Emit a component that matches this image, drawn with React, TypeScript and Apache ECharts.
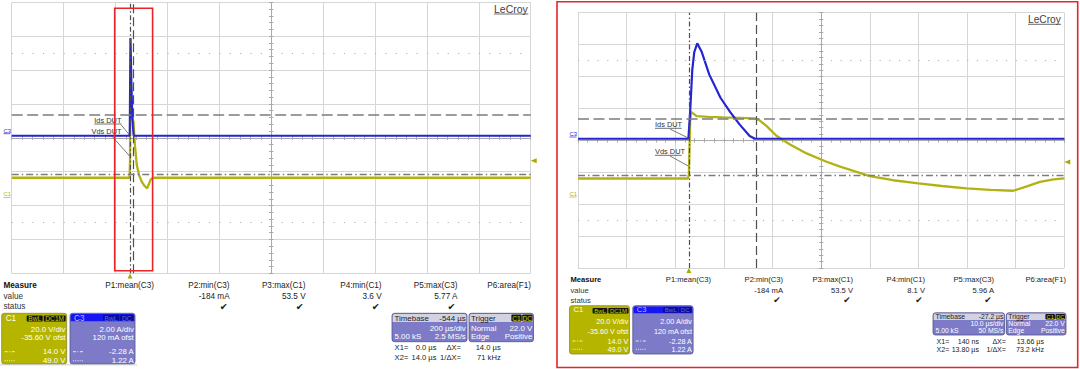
import React, { useEffect, useRef } from "react";
import * as echarts from "echarts";

// ---------------- data ----------------
const measureNames = ["P1:mean(C3)", "P2:min(C3)", "P3:max(C1)", "P4:min(C1)", "P5:max(C3)", "P6:area(F1)"];
const leftMeasureValues = ["", "-184 mA", "53.5 V", "3.6 V", "5.77 A", ""];
const rightMeasureValues = ["", "-184 mA", "53.5 V", "8.1 V", "5.96 A", ""];
const measureStatus = [false, true, true, true, true, false];

const c1Settings = ["20.0 V/div", "-35.60 V ofst", "14.0 V", "49.0 V"];
const c3Settings = ["2.00 A/div", "120 mA ofst", "-2.28 A", "1.22 A"];
const c1Badges = ["BwL", "DC1M"];
const c3Badges = ["BwL", "DC"];
const triggerBadges = ["C1", "DC"];

const leftTimebase = ["-544 µs", "200 µs/div", "5.00 kS", "2.5 MS/s"];
const rightTimebase = ["-27.2 µs", "10.0 µs/div", "5.00 kS", "50 MS/s"];
const triggerInfo = ["Normal", "22.0 V", "Edge", "Positive"];
// X1, X2, ΔX, 1/ΔX
const leftCursorTexts = ["0.0 µs", "14.0 µs", "14.0 µs", "71 kHz"];
const rightCursorTexts = ["140 ns", "13.80 µs", "13.66 µs", "73.2 kHz"];

// scope settings
const C1_VDIV = 20;
const C1_OFFSET = -35.6;
const C3_ADIV = 2;
const C3_OFFSET = 0.12;
const LEFT_US_DIV = 200;
const LEFT_DELAY = -544;
const RIGHT_US_DIV = 10;
const RIGHT_DELAY = -27.2;
const LEFT_X1 = 0;
const LEFT_X2 = 14;
const RIGHT_X1 = 0.14;
const RIGHT_X2 = 13.8;
const CURSOR_V1 = 14.0;
const CURSOR_V2 = 49.0;
const TRIGGER_LEVEL = 22.0;

// traces (time in µs, C1 in V, C3 in A)
const leftC1Time = [-456, -2, 0, 0.5, 6, 13, 19, 26, 35, 45, 55, 66, 72, 79, 87, 1544];
const leftC1Volts = [12.0, 12.0, 22.0, 50.5, 50.0, 45.0, 31.0, 19.5, 13.5, 9.7, 7.3, 5.8, 8.0, 10.8, 12.0, 12.0];
const leftC3Time = [-456, -1, 0.3, 1.7, 5, 9, 14, 1544];
const leftC3Amps = [0, 0, 3.0, 5.77, 3.2, 1.0, 0, 0];

const rightC1Time = [-22.8, -0.2, 0.0, 0.05, 0.25, 0.45, 1.6, 4.0, 7.1, 10.5, 13.6, 14.6, 16.0, 18.0, 20.8, 24.2, 28.3, 31.1, 37.2, 42.0, 47.2, 52.0, 57.1, 62.0, 66.7, 69.5, 72.2, 75.0, 77.2];
const rightC1Volts = [11.7, 11.7, 14.0, 20.5, 47.0, 53.5, 50.8, 50.3, 50.0, 49.7, 49.4, 48.0, 44.5, 38.5, 33.0, 27.4, 22.2, 19.1, 13.2, 10.6, 8.6, 7.0, 5.5, 4.6, 4.0, 6.8, 9.6, 11.2, 11.8];
const rightC3Time = [-22.8, -0.1, 0.25, 0.7, 1.1, 1.72, 2.6, 4.2, 6.5, 8.5, 10.5, 12.5, 13.6, 77.2];
const rightC3Amps = [-0.02, -0.02, 1.6, 4.3, 5.4, 5.96, 5.45, 4.0, 2.55, 1.65, 0.85, 0.15, -0.02, -0.02];

// ---------------- styling ----------------
const FONT = '"Liberation Sans", Arial, Helvetica, sans-serif';
const YEL = "#b2b214";
const BLUE = "#2424d4";
const GRIDC = "#d6d6d6";
const CROSS = "#a9a9a9";
const BOXP = "#7d7bc8";
const BOXY = "#b5b500";

const zip = (t: number[], v: number[]) => t.map((x, i) => [x, v[i]]);

const c1Min = -C1_OFFSET - 4 * C1_VDIV;
const c1Max = -C1_OFFSET + 4 * C1_VDIV;
const c3Min = -C3_OFFSET - 4 * C3_ADIV;
const c3Max = -C3_OFFSET + 4 * C3_ADIV;

const PANELS = [
  {
    grid: { left: 11.7, top: 2.3, width: 519, height: 271 },
    usPerDiv: LEFT_US_DIV, delay: LEFT_DELAY, x1: LEFT_X1, x2: LEFT_X2,
    c1: zip(leftC1Time, leftC1Volts), c3: zip(leftC3Time, leftC3Amps),
  },
  {
    grid: { left: 578, top: 12.7, width: 486.3, height: 255.3 },
    usPerDiv: RIGHT_US_DIV, delay: RIGHT_DELAY, x1: RIGHT_X1, x2: RIGHT_X2,
    c1: zip(rightC1Time, rightC1Volts), c3: zip(rightC3Time, rightC3Amps),
  },
];

// ---------------- graphic helpers ----------------
function txt(x: number, y: number, s: string, size: number, fill: string, align = "left", weight = "normal", family = FONT): any {
  return {
    type: "text", x, y, z: 100, silent: true,
    style: { text: s, fill, font: `${weight} ${size}px ${family}`, textAlign: align, textVerticalAlign: "middle" },
  };
}
function rect(x: number, y: number, w: number, h: number, fill: string, stroke?: string, r: any = 0, lw = 1): any {
  return {
    type: "rect", z: 99, silent: true,
    shape: { x, y, width: w, height: h, r },
    style: { fill, stroke: stroke || null, lineWidth: lw },
  };
}
function ln(x1: number, y1: number, x2: number, y2: number, stroke: string, lw = 1, dash?: number[]): any {
  return {
    type: "line", z: 100, silent: true,
    shape: { x1, y1, x2, y2 },
    style: { stroke, lineWidth: lw, lineDash: dash || null },
  };
}
function badge(x: number, y: number, w: number, h: number, s: string, fill: string, color: string, fs: number): any[] {
  return [rect(x, y, w, h, fill, undefined, 1), { ...txt(x + w / 2, y + h / 2 + 0.3, s, fs, color, "center"), z: 101 }];
}

function infoPanel(L: any, values: string[], tb: string[], cur: string[]): any[] {
  const els: any[] = [];
  const fs = L.fs;
  els.push(txt(L.mx, L.my, "Measure", fs, "#111", "left", "bold"));
  els.push(txt(L.mx, L.vy, "value", fs, "#333"));
  els.push(txt(L.mx, L.sy, "status", fs, "#333"));
  measureNames.forEach((n, i) => {
    els.push(txt(L.cols[i], L.my, n, fs, "#222", "right"));
    if (values[i]) els.push(txt(L.cols[i], L.vy, values[i], fs, "#222", "right"));
    if (measureStatus[i]) els.push(txt(L.cols[i] - 6, L.sy, "✔", fs + 1.2, "#1a1a1a", "center", "normal", '"DejaVu Sans", sans-serif'));
  });

  // C1 channel box
  const b1 = L.c1, k = b1.w / 65, bf = L.bfs, r = L.rows;
  els.push(rect(b1.x, b1.y, b1.w, b1.h, BOXY, "#8a8a30", 2.5, 0.8));
  els.push(txt(b1.x + 4, b1.y + r[0], "C1", bf + 0.4, "#ffffe8"));
  els.push(...badge(b1.x + 25 * k, b1.y + 2.2, 16 * k, L.bh, c1Badges[0], "#151515", "#c9c900", bf - 1.2));
  els.push(...badge(b1.x + 42 * k, b1.y + 2.2, 22 * k, L.bh, c1Badges[1], "#151515", "#c9c900", bf - 1.2));
  c1Settings.forEach((s, i) => els.push(txt(b1.x + b1.w - 1.2, b1.y + r[i + 1], s, bf, "#ffffff", "right")));
  els.push(ln(b1.x + 3, b1.y + r[3], b1.x + 14, b1.y + r[3], "#ffffff", 0.8, [3, 1.5, 1, 1.5]));
  els.push(ln(b1.x + 3, b1.y + r[4], b1.x + 14, b1.y + r[4], "#ffffff", 0.8, [1, 1.2]));

  // C3 channel box
  const b3 = L.c3;
  els.push(rect(b3.x, b3.y, b3.w, b3.h, BOXP, "#50508a", 2.5, 0.8));
  els.push(rect(b3.x + 0.7, b3.y + 0.7, b3.w - 1.4, L.bh + 1.2, "#1616f5", undefined, [2, 2, 0, 0]));
  els.push(txt(b3.x + 4, b3.y + r[0], "C3", bf + 0.4, "#b8b8ff"));
  els.push(...badge(b3.x + 33 * k, b3.y + 1.4, 16 * k, L.bh, c3Badges[0], "#0c0c90", "#5a66ff", bf - 1.2));
  els.push(...badge(b3.x + 50 * k, b3.y + 1.4, 13.5 * k, L.bh, c3Badges[1], "#0c0c90", "#5a66ff", bf - 1.2));
  c3Settings.forEach((s, i) => els.push(txt(b3.x + b3.w - 1.2, b3.y + r[i + 1], s, bf, "#ffffff", "right")));
  els.push(ln(b3.x + 3, b3.y + r[3], b3.x + 14, b3.y + r[3], "#ffffff", 0.8, [3, 1.5, 1, 1.5]));
  els.push(ln(b3.x + 3, b3.y + r[4], b3.x + 14, b3.y + r[4], "#ffffff", 0.8, [1, 1.2]));

  // Timebase box
  const t = L.tb, tr = L.tbRows, tf = L.tfs;
  els.push(rect(t.x, t.y, t.w, t.h, BOXP, "#50508a", 2.5, 0.8));
  els.push(rect(t.x + 0.7, t.y + 0.7, t.w - 1.4, L.th, "#d2d2e2", undefined, [2, 2, 0, 0]));
  els.push(txt(t.x + 2.5, t.y + tr[0], "Timebase", tf, "#222"));
  els.push(txt(t.x + t.w - 1.2, t.y + tr[0], tb[0], tf, "#222", "right"));
  els.push(txt(t.x + t.w - 1.2, t.y + tr[1], tb[1], tf, "#ffffff", "right"));
  els.push(txt(t.x + 2.5, t.y + tr[2], tb[2], tf, "#ffffff"));
  els.push(txt(t.x + t.w - 1.2, t.y + tr[2], tb[3], tf, "#ffffff", "right"));

  // Trigger box
  const g = L.tr;
  els.push(rect(g.x, g.y, g.w, g.h, BOXP, "#50508a", 2.5, 0.8));
  els.push(rect(g.x + 0.7, g.y + 0.7, g.w - 1.4, L.th, "#d2d2e2", undefined, [2, 2, 0, 0]));
  els.push(txt(g.x + 2, g.y + tr[0], "Trigger", tf, "#222"));
  const bw = g.w * 0.16;
  els.push(...badge(g.x + g.w - 2 * bw - 1.5, g.y + 1.2, bw, L.th - 1, triggerBadges[0], "#151515", "#d8d800", tf - 1.2));
  els.push(...badge(g.x + g.w - bw - 1, g.y + 1.2, bw, L.th - 1, triggerBadges[1], "#151515", "#d8d800", tf - 1.2));
  els.push(txt(g.x + 2, g.y + tr[1], triggerInfo[0], tf, "#ffffff"));
  els.push(txt(g.x + g.w - 1.2, g.y + tr[1], triggerInfo[1], tf, "#ffffff", "right"));
  els.push(txt(g.x + 2, g.y + tr[2], triggerInfo[2], tf, "#ffffff"));
  els.push(txt(g.x + g.w - 1.2, g.y + tr[2], triggerInfo[3], tf, "#ffffff", "right"));

  // cursor readouts
  const c = L.cur, cf = L.cfs;
  els.push(txt(c.x, c.y1, "X1=", cf, "#222"));
  els.push(txt(c.v1, c.y1, cur[0], cf, "#222", "right"));
  els.push(txt(c.l2, c.y1, "ΔX=", cf, "#222", "right"));
  els.push(txt(c.v2, c.y1, cur[2], cf, "#222", "right"));
  els.push(txt(c.x, c.y2, "X2=", cf, "#222"));
  els.push(txt(c.v1, c.y2, cur[1], cf, "#222", "right"));
  els.push(txt(c.l2, c.y2, "1/ΔX=", cf, "#222", "right"));
  els.push(txt(c.v2, c.y2, cur[3], cf, "#222", "right"));
  return els;
}

const LEFT_INFO = {
  fs: 8.2, mx: 3.5, my: 285.5, vy: 296, sy: 306.3,
  cols: [154, 229.6, 305.6, 381.6, 457.5, 531],
  c1: { x: 1.7, y: 313.3, w: 65, h: 50.7 },
  c3: { x: 70, y: 313.3, w: 65, h: 50.7 },
  rows: [5, 15.7, 24.4, 38.4, 47.4], bfs: 7.8, bh: 6,
  tb: { x: 392, y: 313.3, w: 75, h: 28.4 },
  tr: { x: 469, y: 313.3, w: 64.5, h: 28.4 },
  tbRows: [5, 14.8, 23.6], tfs: 7.9, th: 8,
  cur: { x: 394.6, y1: 347.7, y2: 357.3, v1: 436.5, l2: 461, v2: 500.7 }, cfs: 7.6,
};
const RIGHT_INFO = {
  fs: 7.6, mx: 570.5, my: 279.3, vy: 290.5, sy: 300,
  cols: [711, 783, 853, 925, 994, 1066],
  c1: { x: 569.5, y: 305.7, w: 60, h: 48.3 },
  c3: { x: 632.8, y: 305.7, w: 60.3, h: 48.3 },
  rows: [4.2, 16, 26, 35.3, 43.6], bfs: 7.2, bh: 5.6,
  tb: { x: 933, y: 312.8, w: 71.6, h: 22.2 },
  tr: { x: 1006.3, y: 312.8, w: 59.7, h: 22.2 },
  tbRows: [4, 10.8, 17.8], tfs: 6.8, th: 6.6,
  cur: { x: 936.6, y1: 341.7, y2: 350.2, v1: 979, l2: 1006, v2: 1044 }, cfs: 7.1,
};

function decorations(): any[] {
  const els: any[] = [];
  // LeCroy logos
  els.push(txt(494, 8.7, "LeCroy", 10.5, "#444"));
  els.push(ln(494, 14, 528.3, 14, "#444", 0.8));
  els.push(txt(1028, 19.3, "LeCroy", 10.2, "#444"));
  els.push(ln(1028, 24.3, 1061, 24.3, "#444", 0.8));
  // channel ground labels
  els.push(txt(3.5, 130.5, "C3", 6, BLUE));
  els.push(ln(3.5, 133.7, 10.5, 133.7, BLUE, 0.7));
  els.push(txt(3.5, 194.3, "C1", 6, YEL));
  els.push(ln(3.5, 197.5, 10.5, 197.5, YEL, 0.7));
  els.push(txt(569.5, 133.8, "C3", 6, BLUE));
  els.push(ln(569.5, 137, 576.5, 137, BLUE, 0.7));
  els.push(txt(569.5, 193.8, "C1", 6, YEL));
  els.push(ln(569.5, 197, 576.5, 197, YEL, 0.7));
  // trace annotations (left)
  els.push(txt(94.3, 120, "Ids DUT", 7.4, "#333"));
  els.push(ln(94.3, 124, 121.5, 124, "#333", 0.7));
  els.push(ln(120.9, 124.5, 130.3, 136, "#444", 0.7));
  els.push(txt(91.5, 131.5, "Vds DUT", 7.4, "#333"));
  els.push(ln(91.5, 135.6, 121.5, 135.6, "#333", 0.7));
  els.push(ln(112.2, 136.5, 129.6, 156, "#444", 0.7));
  // trace annotations (right)
  els.push(txt(655, 124.3, "Ids DUT", 7.4, "#333"));
  els.push(ln(655, 128.3, 681.7, 128.3, "#333", 0.7));
  els.push(ln(670, 129, 688.3, 138, "#444", 0.7));
  els.push(txt(655, 151.2, "Vds DUT", 7.4, "#333"));
  els.push(ln(655, 155.3, 681.7, 155.3, "#333", 0.7));
  els.push(ln(670, 156, 688.3, 166, "#444", 0.7));
  // highlight boxes
  els.push({ ...rect(114.7, 8.3, 37.9, 262.4, "none", "#e8232a", 0, 1.6), z: 110 });
  els.push({ ...rect(557, 1.7, 520.7, 365.8, "none", "#e8232a", 0, 1.6), z: 110 });
  // faint separator on left
  els.push(ln(0, 364.8, 137, 364.8, "#c4c4c4", 0.8));
  return els;
}

function buildOption(): any {
  const grid: any[] = [];
  const xAxis: any[] = [];
  const yAxis: any[] = [];
  const series: any[] = [];

  PANELS.forEach((p, g) => {
    grid.push({ ...p.grid, show: false });
    const xi = xAxis.length;
    const yi = yAxis.length;
    const tMin = -p.delay - 5 * p.usPerDiv;
    const tMax = -p.delay + 5 * p.usPerDiv;
    const divX = (position: string, main: boolean) => ({
      type: "value", gridIndex: g, position, min: -5, max: 5, interval: 1,
      axisLabel: { show: false },
      axisLine: { show: main, onZero: true, onZeroAxisIndex: yi, lineStyle: { color: CROSS, width: 1 } },
      axisTick: { show: true, length: 2.2, lineStyle: { color: CROSS } },
      minorTick: { show: true, splitNumber: 5, length: 2.2, lineStyle: { color: CROSS } },
      splitLine: { show: main, lineStyle: { color: GRIDC, width: 1 } },
    });
    const divY = (position: string, main: boolean) => ({
      type: "value", gridIndex: g, position, min: -4, max: 4, interval: 1,
      axisLabel: { show: false },
      axisLine: { show: main, onZero: true, onZeroAxisIndex: xi, lineStyle: { color: CROSS, width: 1 } },
      axisTick: { show: true, length: 2.2, lineStyle: { color: CROSS } },
      minorTick: { show: true, splitNumber: 5, length: 2.2, lineStyle: { color: CROSS } },
      splitLine: { show: main, lineStyle: { color: GRIDC, width: 1 } },
    });
    xAxis.push(divX("bottom", true), divX("top", false));
    xAxis.push({ type: "value", gridIndex: g, min: tMin, max: tMax, show: false });
    yAxis.push(divY("left", true), divY("right", false));
    yAxis.push({ type: "value", gridIndex: g, min: c1Min, max: c1Max, show: false });
    yAxis.push({ type: "value", gridIndex: g, min: c3Min, max: c3Max, show: false });

    const dotPeriod = (p.grid.width / 10) * 0.2;
    series.push({
      type: "line", xAxisIndex: xi, yAxisIndex: yi, data: [[-5, 0]], symbol: "none",
      lineStyle: { opacity: 0 }, silent: true, z: 1,
      markLine: {
        silent: true, symbol: ["none", "none"], label: { show: false },
        lineStyle: { color: "#b2b2b2", width: 1.2, type: [1.2, dotPeriod - 1.2] },
        data: [{ yAxis: 2.5 }, { yAxis: -2.5 }],
      },
    });

    series.push({
      name: "C1 " + g, type: "line", xAxisIndex: xi + 2, yAxisIndex: yi + 2, data: p.c1,
      symbol: "none", silent: true, z: 3,
      lineStyle: { color: YEL, width: 2.3 },
      markLine: {
        silent: true, symbol: ["none", "none"], label: { show: false },
        data: [
          { xAxis: p.x1, lineStyle: { color: "#4e4e4e", width: 1.2, type: [5, 2.5, 1.5, 2.5] } },
          { xAxis: p.x2, lineStyle: { color: "#4e4e4e", width: 1.2, type: [9, 4] } },
          { yAxis: CURSOR_V1, lineStyle: { color: "#7c7c7c", width: 1.3, type: [7, 3, 1.5, 3] } },
          { yAxis: CURSOR_V2, lineStyle: { color: "#7c7c7c", width: 1.6, type: [11, 4.5] } },
        ],
      },
      markPoint: {
        silent: true, label: { show: false },
        data: [
          { coord: [tMax, TRIGGER_LEVEL], symbol: "triangle", symbolSize: [5, 6], symbolRotate: 90, symbolOffset: [3, 0], itemStyle: { color: "#a8a800" } },
          { coord: [0, c1Min], symbol: "triangle", symbolSize: [5, 5], symbolOffset: [0, 2.6], itemStyle: { color: "#a8a800" } },
        ],
      },
    });
    series.push({
      name: "C3 " + g, type: "line", xAxisIndex: xi + 2, yAxisIndex: yi + 3, data: p.c3,
      symbol: "none", silent: true, z: 4,
      lineStyle: { color: BLUE, width: 2.2 },
    });
  });

  return {
    animation: false,
    backgroundColor: "#ffffff",
    grid, xAxis, yAxis, series,
    graphic: {
      elements: [
        ...decorations(),
        ...infoPanel(LEFT_INFO, leftMeasureValues, leftTimebase, leftCursorTexts),
        ...infoPanel(RIGHT_INFO, rightMeasureValues, rightTimebase, rightCursorTexts),
      ],
    },
  };
}

export default function App() {
  const ref = useRef<HTMLDivElement>(null);
  useEffect(() => {
    if (!ref.current) return;
    const chart = echarts.init(ref.current, undefined, { renderer: "svg" });
    chart.setOption(buildOption());
    return () => chart.dispose();
  }, []);
  return (
    <div
      ref={ref}
      style={{ position: "fixed", left: 0, top: 0, width: 1080, height: 369, background: "#fff" }}
    />
  );
}
